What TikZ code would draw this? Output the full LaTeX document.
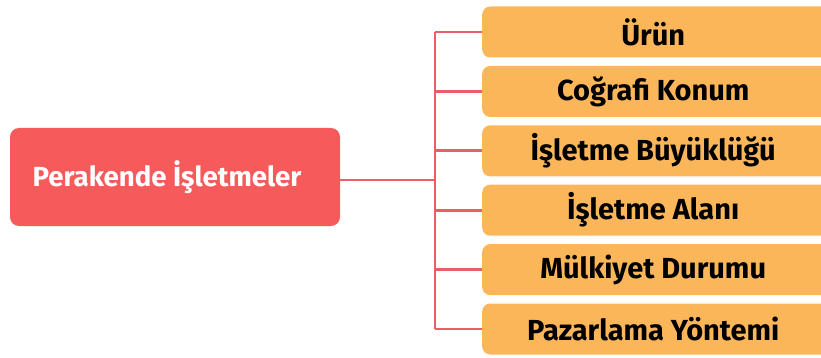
\documentclass[tikz,border=0pt]{standalone}
\usepackage{fontspec}
\setmainfont{Fira Sans}
\definecolor{rootred}{HTML}{F75A5B}
\definecolor{leaforange}{HTML}{FBB65A}
\definecolor{linkred}{HTML}{EA5F66}
\begin{document}
\begin{tikzpicture}[x=1pt,y=-1pt,
  rootbox/.style={fill=rootred,rounded corners=9pt,minimum width=330pt,minimum height=98pt,text=white,font=\bfseries\fontsize{27.6}{30}\selectfont,inner sep=0pt},
  leafbox/.style={fill=leaforange,rounded corners=8pt,minimum width=350pt,minimum height=51pt,text=black,font=\bfseries\fontsize{29}{32}\selectfont,inner sep=0pt},
  link/.style={draw=linkred,line width=2.8pt}]
\useasboundingbox (0,0) rectangle (821,358);
\begin{scope}
\clip (0,0) rectangle (821,358);
\node[rootbox] (root) at (175,177) {\hspace*{-16pt}Perakende İşletmeler};
\coordinate (hub) at (435,180);
\node[leafbox,anchor=west] (l1) at (482,32) {\hspace*{-8pt}Ürün};
\node[leafbox,anchor=west] (l2) at (482,91.4) {\hspace*{-8pt}Coğrafi Konum};
\node[leafbox,anchor=west] (l3) at (482,150.8) {\hspace*{-8pt}İşletme Büyüklüğü};
\node[leafbox,anchor=west] (l4) at (482,210.2) {\hspace*{-8pt}İşletme Alanı};
\node[leafbox,anchor=west] (l5) at (482,269.6) {\hspace*{-8pt}Mülkiyet Durumu};
\node[leafbox,anchor=west] (l6) at (482,329) {\hspace*{-8pt}Pazarlama Yöntemi};
\coordinate (top) at (435,32);
\coordinate (bot) at (435,329);
\draw[link] (root.east |- hub) -- (hub);
\draw[link] (top) -- (bot);
\foreach \n in {l1,l2,l3,l4,l5,l6}
  \draw[link] (top |- \n.west) -- (\n.west);
\end{scope}
\end{tikzpicture}
\end{document}
